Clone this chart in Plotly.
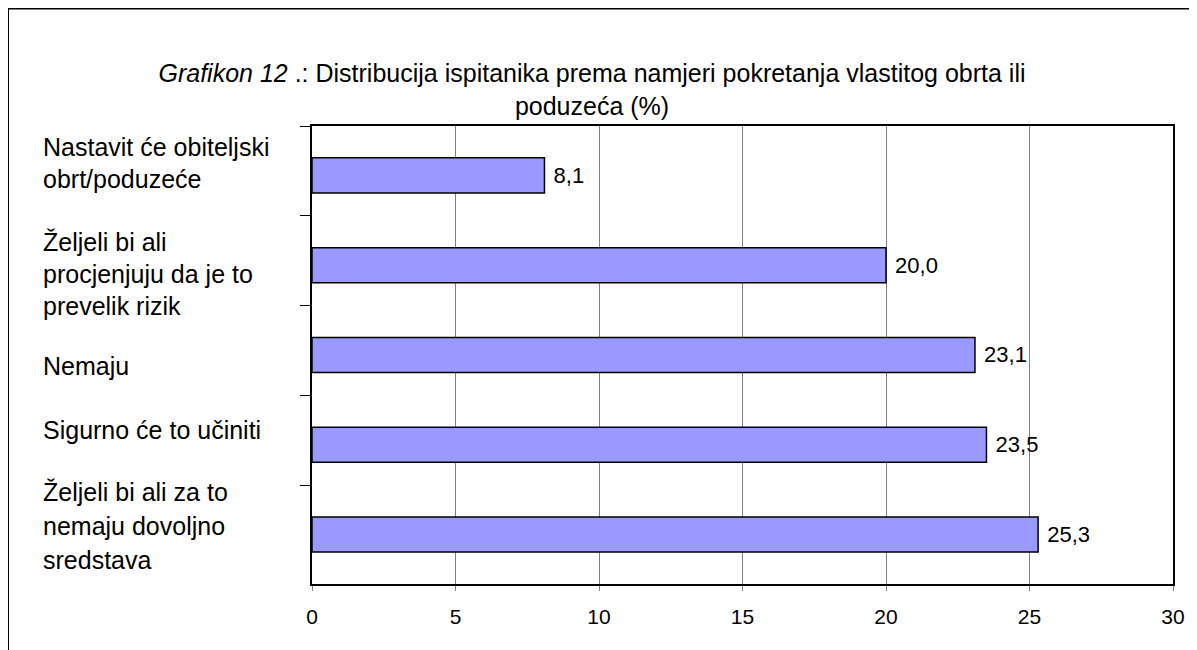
import plotly.graph_objects as go

categories = [
    "Nastavit će obiteljski obrt/poduzeće",
    "Željeli bi ali procjenjuju da je to prevelik rizik",
    "Nemaju",
    "Sigurno će to učiniti",
    "Željeli bi ali za to nemaju dovoljno sredstava",
]
label_lines = [
    ["Nastavit će obiteljski", "obrt/poduzeće"],
    ["Željeli bi ali", "procjenjuju da je to", "prevelik rizik"],
    ["Nemaju"],
    ["Sigurno će to učiniti"],
    ["Željeli bi ali za to", "nemaju dovoljno", "sredstava"],
]
values = [8.1, 20.0, 23.1, 23.5, 25.3]
x_ticks = [0, 5, 10, 15, 20, 25, 30]

# style: top-line offset (px) of each label block relative to its category centre, and line gaps
label_top_offsets = [24, 19, -16, 10, 38]
line_gaps = [32, 32, 32, 32, 34]

FONT = "Liberation Sans, Arial"
W, H = 1189, 642          # page body adds an 8px margin
L, R, T, B = 304, 24, 118, 66
pw, ph = W - L - R, H - T - B
BAR_W = 0.39

fig = go.Figure(go.Bar(
    y=categories, x=values, orientation="h",
    marker=dict(color="#9999FF", line=dict(color="black", width=1.5)),
    width=BAR_W, offset=-BAR_W / 2 + 0.05,
    text=values, texttemplate=" %{x:.1f}", textposition="outside",
    textfont=dict(family=FONT, size=22, color="black"),
    cliponaxis=False,
))

annotations = []
for cat, lines, off, gap in zip(categories, label_lines, label_top_offsets, line_gaps):
    for i, ln in enumerate(lines):
        annotations.append(dict(
            x=(33 - L) / pw, xref="paper", y=cat, yref="y",
            text=ln, showarrow=False, xanchor="left", yanchor="middle",
            yshift=off - i * gap,
            font=dict(family=FONT, size=25, color="black"),
        ))

fig.update_layout(
    width=W, height=H,
    margin=dict(l=L, r=R, t=T, b=B),
    paper_bgcolor="white", plot_bgcolor="white",
    separators=",.",
    showlegend=False,
    title=dict(
        text="<i>Grafikon 12</i> .: Distribucija ispitanika prema namjeri pokretanja vlastitog obrta ili<br>poduzeća (%)",
        x=584 / W, xanchor="center", xref="container", y=1 - 74 / H, yanchor="top",
        font=dict(family=FONT, size=25, color="black"),
    ),
    annotations=annotations,
    shapes=[dict(type="rect", xref="paper", yref="paper",
                 x0=(0 - L) / pw, x1=(1230 - L) / pw,
                 y0=(T + ph - 700) / ph, y1=(T + ph - 0.5) / ph,
                 line=dict(color="black", width=2), fillcolor="rgba(0,0,0,0)", layer="below")],
    xaxis=dict(
        range=[0, 30], tickvals=x_ticks, ticktext=[str(v) for v in x_ticks],
        showgrid=True, gridcolor="#808080", gridwidth=1,
        showline=True, linecolor="black", linewidth=2, mirror=True,
        ticks="outside", ticklen=5, tickcolor="#808080",
        ticklabelstandoff=8,
        tickfont=dict(family=FONT, size=21, color="black"),
        zeroline=False, fixedrange=True,
    ),
    yaxis=dict(
        autorange="reversed", type="category",
        showticklabels=False,
        showline=True, linecolor="black", linewidth=2, mirror=True,
        ticks="outside", tickson="boundaries", ticklen=10, tickcolor="black",
        showgrid=False, zeroline=False, fixedrange=True,
    ),
)

fig.write_html("out.html")
